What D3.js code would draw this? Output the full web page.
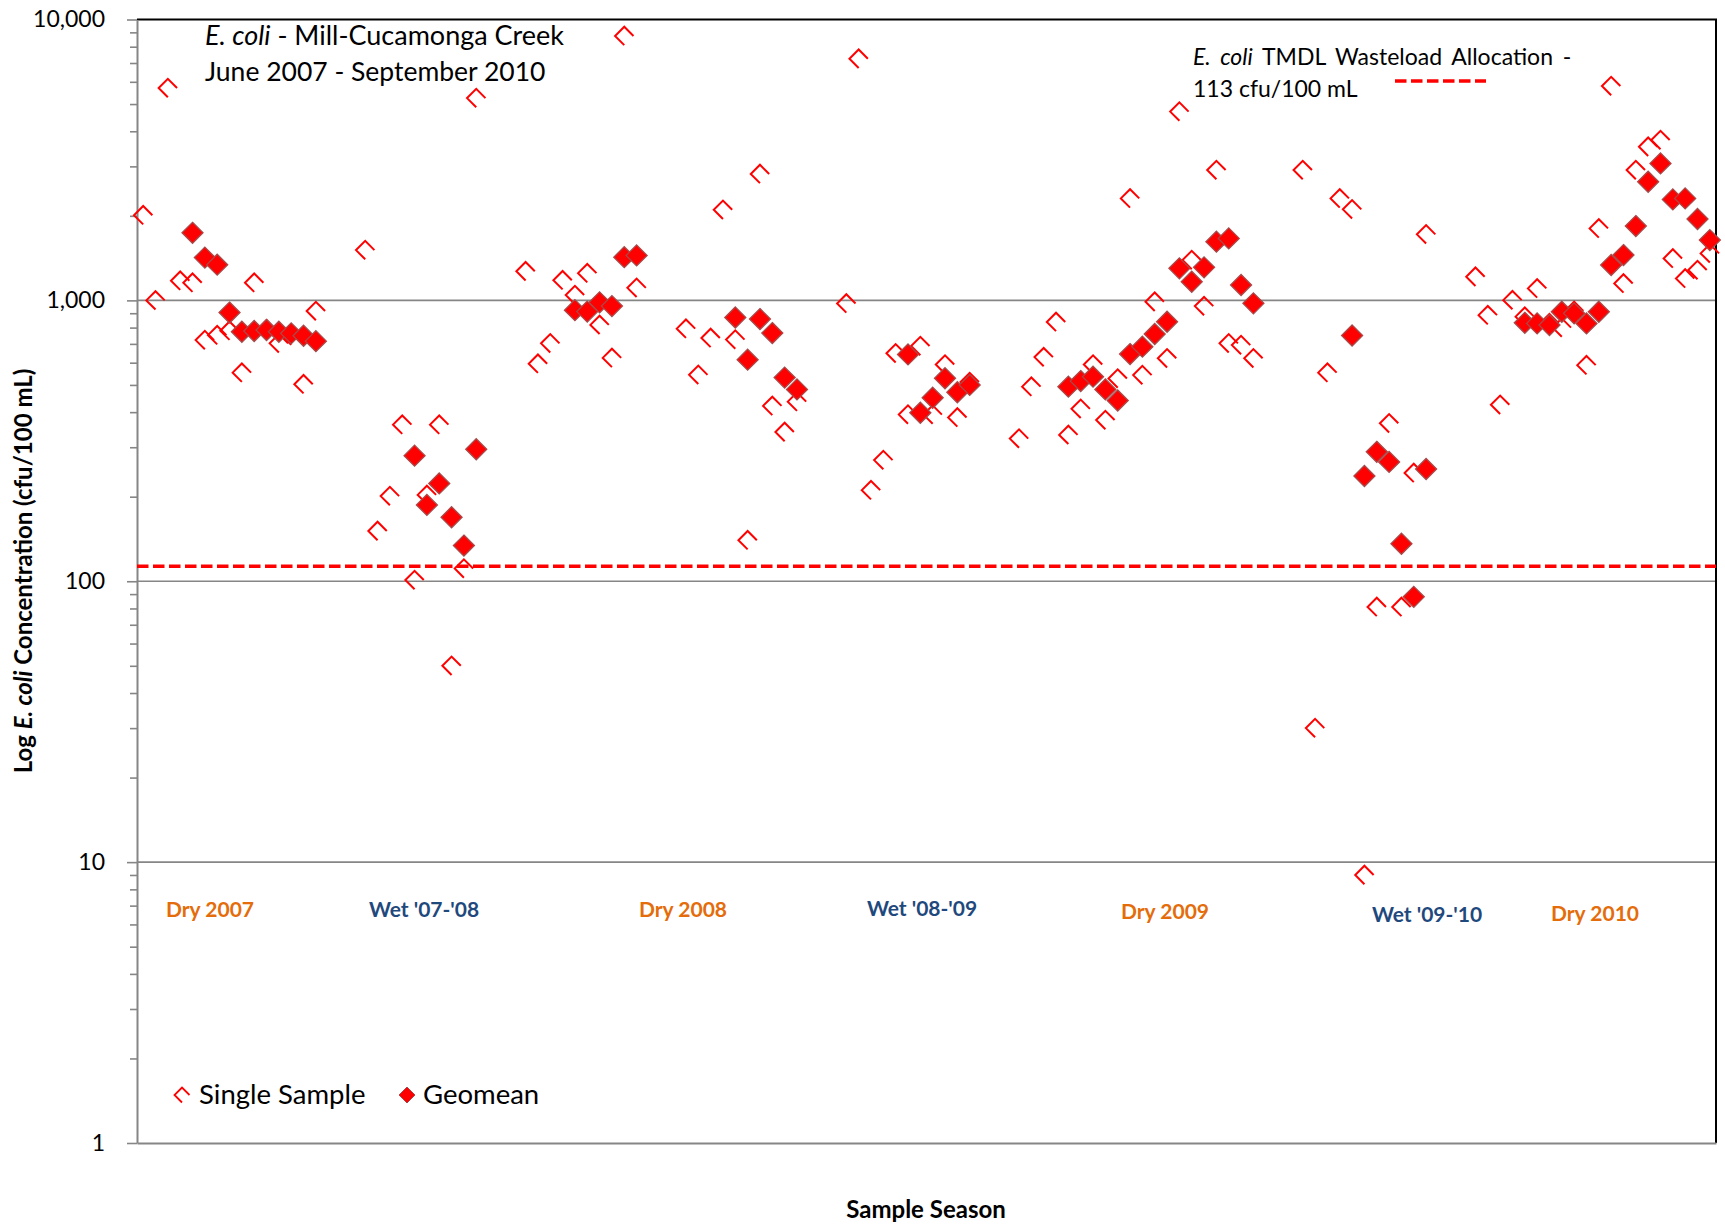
<!DOCTYPE html>
<html>
<head>
<meta charset="utf-8">
<script src="https://cdn.jsdelivr.net/npm/d3@7"></script>
<style>
  body { margin: 0; background: #fff; }
  text { font-family: Lato, "Open Sans", sans-serif; }
</style>
</head>
<body>
<div id="chart"></div>
<script>
// sample slots along the x axis (one slot per weekly sample, blank slots between seasons)
const slotCount = 128;

const singleSlot = [
    0, 1, 2, 3, 4, 5, 6, 7, 8, 9, 10, 11, 12, 13, 14,
    18, 19, 20, 21, 22, 23, 24, 25, 26, 27,
    31, 32, 33, 34, 35, 36, 37, 38, 39, 40,
    44, 45, 46, 47, 48, 49, 50, 51, 52, 53,
    57, 58, 59, 60, 61, 62, 63, 64, 65, 66, 67,
    71, 72, 73, 74, 75, 76, 77, 78, 79, 80, 81, 82, 83, 84, 85, 86, 87, 88, 89, 90,
    94, 95, 96, 97, 98, 99, 100, 101, 102, 103, 104,
    108, 109, 110, 111, 112, 113, 114, 115, 116, 117, 118, 119, 120, 121, 122, 123, 124, 125, 126, 127
];
const singleValue = [
    2010, 1000, 5700, 1175, 1156, 722, 752, 780, 553, 1156, 790, 703, 749, 503, 916,
    1510, 151, 201, 361, 101, 203, 361, 50, 111, 5250,
    1270, 595, 703, 1180, 1045, 1250, 818, 624, 8740, 1108,
    793, 543, 735, 2101, 725, 140, 2819, 421, 340, 436,
    975, 7250, 211, 270, 648, 392, 688, 392, 591, 383, 512,
    322, 493, 628, 838, 332, 411, 591, 375, 527, 2307, 542, 989, 622, 4700, 1392, 954, 2912, 703, 693, 622,
    2912, 30, 553, 2307, 2109, 9, 81, 365, 81, 243, 1718,
    1214, 886, 425, 1002, 875, 1103, 830, 800, 917, 588, 1804, 5795, 1149, 2911, 3524, 3722, 1410, 1197, 1282, 1470
];

const geomeanSlot = [
    4, 5, 6, 7, 8, 9, 10, 11, 12, 13, 14,
    22, 23, 24, 25, 26, 27,
    35, 36, 37, 38, 39, 40,
    48, 49, 50, 51, 52, 53,
    62, 63, 64, 65, 66, 67,
    75, 76, 77, 78, 79, 80, 81, 82, 83, 84, 85, 86, 87, 88, 89, 90,
    98, 99, 100, 101, 102, 103, 104,
    112, 113, 114, 115, 116, 117, 118, 119, 120, 121, 122, 123, 124, 125, 126, 127
];
const geomeanValue = [
    1740, 1420, 1340, 905, 773, 778, 784, 773, 763, 748, 716,
    280, 187, 223, 169, 134, 295,
    923, 912, 984, 954, 1425, 1446,
    869, 615, 858, 765, 531, 482,
    642, 398, 450, 528, 471, 500,
    493, 516, 535, 482, 440, 644, 684, 759, 839, 1300, 1165, 1311, 1618, 1662, 1134, 976,
    750, 237, 289, 266, 136, 88, 251,
    832, 828, 817, 911, 899, 828, 911, 1336, 1450, 1839, 2645, 3074, 2288, 2307, 1948, 1639
];

const wasteloadAllocation = 113;
const majorTicks = [1, 10, 100, 1000, 10000];
const seasonNames = ["Dry 2007", "Wet '07-'08", "Dry 2008", "Wet '08-'09", "Dry 2009", "Wet '09-'10", "Dry 2010"];
const seasonKinds = ["dry", "wet", "dry", "wet", "dry", "wet", "dry"];

// ---- layout ----
const width = 1725, height = 1225;
const plot = {left: 137, right: 1716, top: 19.5, bottom: 1143};
const red = "#ff0000";
const gridGray = "#868686";

const svg = d3.select("#chart")
    .append("svg")
    .attr("width", width)
    .attr("height", height);

const x = d3.scaleBand()
    .domain(d3.range(slotCount))
    .range([plot.left, plot.right]);
const cx = (slot) => x(slot) + x.bandwidth() / 2;

const y = d3.scaleLog()
    .domain([1, 10000])
    .range([plot.bottom, plot.top]);

// gridlines
svg.append("g")
    .selectAll("line")
    .data(majorTicks.slice(1, -1))
    .join("line")
    .attr("x1", plot.left)
    .attr("x2", plot.right)
    .attr("y1", (d) => y(d))
    .attr("y2", (d) => y(d))
    .attr("stroke", gridGray)
    .attr("stroke-width", 1.6);

// plot area border (top and right are black)
svg.append("path")
    .attr("d", `M${plot.left},${plot.top}H${plot.right}V${plot.bottom}`)
    .attr("fill", "none")
    .attr("stroke", "#000")
    .attr("stroke-width", 2);

// minor ticks on left axis
const minorTicks = [];
for (const base of [1, 10, 100, 1000]) {
    for (let k = 2; k <= 9; k++) minorTicks.push(base * k);
}

const minorAxis = svg.append("g")
    .attr("transform", `translate(${plot.left},0)`)
    .call(d3.axisLeft(y).tickValues(minorTicks).tickSize(7).tickSizeOuter(0).tickFormat(""));
minorAxis.select(".domain").remove();
minorAxis.selectAll("line").attr("stroke", gridGray).attr("stroke-width", 1.6);

const yAxis = svg.append("g")
    .attr("transform", `translate(${plot.left},0)`)
    .call(d3.axisLeft(y)
        .tickValues(majorTicks)
        .tickSize(10)
        .tickSizeOuter(0)
        .tickPadding(22)
        .tickFormat(d3.format(",")));
yAxis.select(".domain").attr("stroke", gridGray).attr("stroke-width", 2);
yAxis.selectAll("line").attr("stroke", gridGray).attr("stroke-width", 1.6);
yAxis.selectAll("text")
    .attr("fill", "#000")
    .style("font-size", "23px")
    .style("font-family", "Lato, sans-serif");

// bottom axis line
const xAxis = svg.append("g")
    .attr("transform", `translate(0,${plot.bottom})`)
    .call(d3.axisBottom(x).tickValues([]).tickSizeOuter(0));
xAxis.select(".domain").attr("stroke", gridGray).attr("stroke-width", 2);

// TMDL wasteload allocation line
svg.append("line")
    .attr("x1", plot.left)
    .attr("x2", plot.right)
    .attr("y1", y(wasteloadAllocation))
    .attr("y2", y(wasteloadAllocation))
    .attr("stroke", red)
    .attr("stroke-width", 3.5)
    .attr("stroke-dasharray", "11.5,4.5");

// marker shapes
const openMarker = (r) => `M${r},0L0,${-r}L${-r},0L0,${r}`;
const diamond = (r) => `M0,${-r}L${r},0L0,${r}L${-r},0Z`;

const singles = singleSlot.map((s, i) => ({slot: s, value: singleValue[i]}));
const geomeans = geomeanSlot.map((s, i) => ({slot: s, value: geomeanValue[i]}));

svg.append("g")
    .selectAll("path")
    .data(singles)
    .join("path")
    .attr("transform", (d) => `translate(${cx(d.slot)},${y(d.value)})`)
    .attr("d", openMarker(9.2))
    .attr("fill", "none")
    .attr("stroke", red)
    .attr("stroke-width", 2);

svg.append("g")
    .selectAll("path")
    .data(geomeans)
    .join("path")
    .attr("transform", (d) => `translate(${cx(d.slot)},${y(d.value)})`)
    .attr("d", diamond(10.5))
    .attr("fill", red)
    .attr("stroke", "#a94848")
    .attr("stroke-width", 1.3);

// season labels
const seasonColor = {dry: "#e46c0a", wet: "#1f497d"};
const seasonLabelX = [210, 424, 683, 922, 1165, 1427, 1595];
const seasonLabelY = [917, 917, 917, 916, 919, 921.5, 920.5];

svg.append("g")
    .selectAll("text")
    .data(seasonNames)
    .join("text")
    .attr("x", (d, i) => seasonLabelX[i])
    .attr("y", (d, i) => seasonLabelY[i])
    .attr("text-anchor", "middle")
    .attr("fill", (d, i) => seasonColor[seasonKinds[i]])
    .style("font-size", "21px")
    .style("font-weight", "bold")
    .text((d) => d);

// chart title
const title = svg.append("text")
    .attr("x", 205)
    .attr("y", 45)
    .style("font-size", "27px");
title.append("tspan").style("font-style", "italic").text("E. coli");
title.append("tspan").text(" - Mill-Cucamonga Creek");
svg.append("text")
    .attr("x", 205)
    .attr("y", 80.5)
    .style("font-size", "26.5px")
    .text("June 2007 - September 2010");

// WLA legend (top right)
const wla = svg.append("text")
    .attr("x", 1193)
    .attr("y", 65)
    .style("font-size", "23px")
    .style("word-spacing", "4px");
wla.append("tspan").style("font-style", "italic").text("E. coli");
wla.append("tspan").text(" TMDL Wasteload Allocation -");
svg.append("text")
    .attr("x", 1193)
    .attr("y", 96.7)
    .style("font-size", "23px")
    .text(`${wasteloadAllocation} cfu/100 mL`);
svg.append("line")
    .attr("x1", 1395)
    .attr("x2", 1486)
    .attr("y1", 81)
    .attr("y2", 81)
    .attr("stroke", red)
    .attr("stroke-width", 3.5)
    .attr("stroke-dasharray", "11.5,4.5");

// series legend (bottom left)
const legendY = 1095;
svg.append("path")
    .attr("transform", `translate(182,${legendY})`)
    .attr("d", openMarker(7.5))
    .attr("fill", "none")
    .attr("stroke", red)
    .attr("stroke-width", 1.8);
svg.append("text")
    .attr("x", 199)
    .attr("y", 1104)
    .style("font-size", "27.5px")
    .text("Single Sample");
svg.append("path")
    .attr("transform", `translate(407,${legendY})`)
    .attr("d", diamond(8))
    .attr("fill", red)
    .attr("stroke", "#a94848")
    .attr("stroke-width", 1);
svg.append("text")
    .attr("x", 423)
    .attr("y", 1104)
    .style("font-size", "27.5px")
    .text("Geomean");

// axis titles
const yTitle = svg.append("text")
    .attr("transform", `translate(32,571) rotate(-90)`)
    .attr("text-anchor", "middle")
    .style("font-size", "24px")
    .style("font-weight", "bold");
yTitle.append("tspan").text("Log ");
yTitle.append("tspan").style("font-style", "italic").text("E. coli");
yTitle.append("tspan").text(" Concentration (cfu/100 mL)");

svg.append("text")
    .attr("x", 926)
    .attr("y", 1218)
    .attr("text-anchor", "middle")
    .style("font-size", "24px")
    .style("font-weight", "bold")
    .text("Sample Season");
</script>
</body>
</html>
